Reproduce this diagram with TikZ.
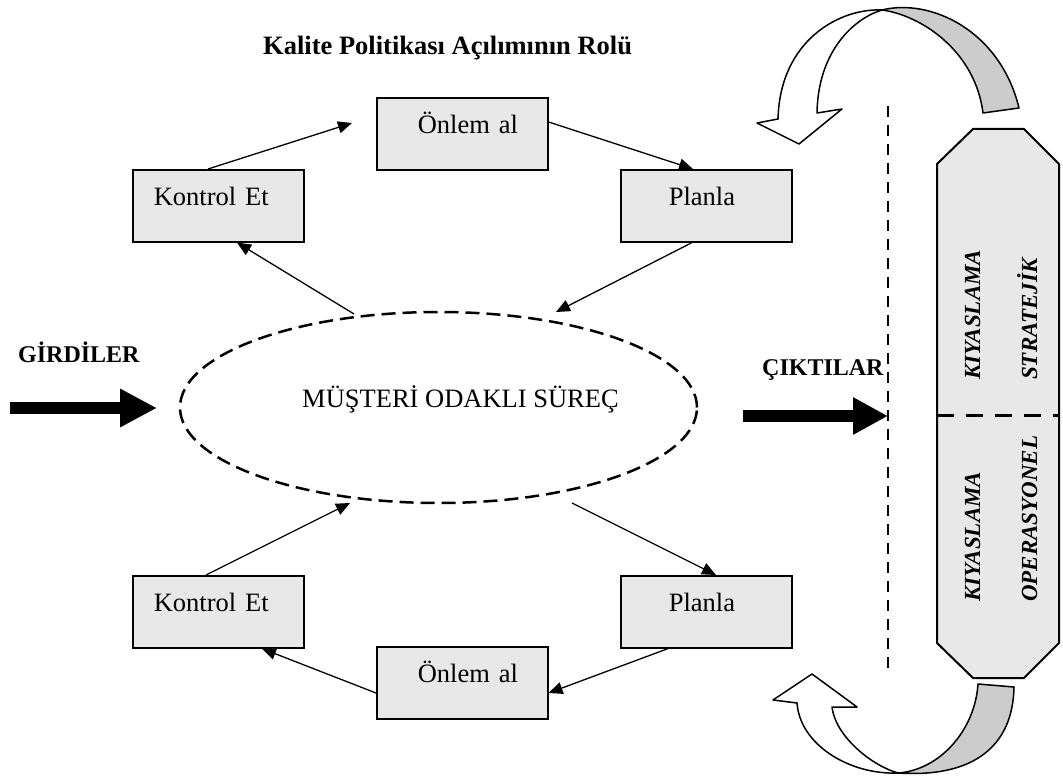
\documentclass[tikz,border=0pt]{standalone}
\usepackage{fontspec}
\setmainfont{Liberation Serif}
\usetikzlibrary{arrows.meta,shapes.geometric,calc}
\definecolor{boxgray}{HTML}{E8E8E8}
\definecolor{bandgray}{HTML}{CCCCCC}
\begin{document}
\begin{tikzpicture}[x=1pt,y=-1pt,
  txt/.style={font=\fontsize{26.5}{30}\selectfont},
  box/.style={draw, fill=boxgray, line width=1.6pt, anchor=north west, inner sep=0pt,
    text width=171pt, align=left, text height=36pt, text depth=36pt, txt},
  link/.style={line width=1.3pt, -{Triangle[length=14pt,width=12pt]}},
  heavy/.style={line width=12pt, -{Triangle[length=37pt,width=36pt]}},
  boldlbl/.style={anchor=base west, inner sep=0pt, font=\bfseries\fontsize{24}{28}\selectfont},
  vtext/.style={rotate=90, anchor=base west, inner sep=0pt, font=\bfseries\itshape\fontsize{23}{26}\selectfont},
  curl/.style={line width=1.5pt, line join=round},
]
\useasboundingbox (0,0) rectangle (1063,783);

% title
\node[anchor=base west, inner sep=0pt, font=\bfseries\fontsize{26.5}{30}\selectfont] (title) at (263,55) {Kalite Politikası Açılımının Rolü};

% cycle boxes
\node[box] (k1) at (132,169) {\hspace*{21pt}Kontrol Et};
\node[box] (o1) at (376,97)  {\hspace*{41pt}Önlem al};
\node[box] (p1) at (620,169) {\hspace*{48pt}Planla};
\node[box] (k2) at (132,575) {\hspace*{21pt}Kontrol Et};
\node[box] (o2) at (376,646) {\hspace*{41pt}Önlem al};
\node[box] (p2) at (620,575) {\hspace*{48pt}Planla};

% central process
\node[ellipse, draw, line width=2.5pt, dash pattern=on 14pt off 7pt,
  minimum width=517pt, minimum height=191pt, inner sep=0pt,
  text height=0pt, text depth=0pt, txt] (proc) at (438.5,407.5)
  {\hspace*{44pt}MÜŞTERİ ODAKLI SÜREÇ};

% upper cycle
\coordinate (t1) at (352,123);
\draw[link] ($(k1.north west)+(76,0)$) -- (t1);
\draw[link] ($(o1.north east)+(0,25)$) -- ($(p1.north west)+(73,0)$);
\coordinate (t3) at (556,312);
\draw[link] ($(p1.south west)+(72,0)$) -- (t3);
\coordinate (s4) at (354,314);
\draw[link] (s4) -- ($(k1.south west)+(105,0)$);

% lower cycle
\coordinate (t5) at (350,503);
\draw[link] ($(k2.north west)+(74,0)$) -- (t5);
\coordinate (s6) at (572,503);
\draw[link] (s6) -- ($(p2.north west)+(96,0)$);
\draw[link] ($(p2.south west)+(48,0)$) -- ($(o2.north east)+(0,47)$);
\draw[link] ($(o2.north west)+(0,47)$) -- ($(k2.south west)+(130,0)$);

% inputs and outputs
\node[boldlbl] (in) at (18,363) {GİRDİLER};
\coordinate (g0) at (10,408);
\coordinate (g1) at (157,408);
\draw[heavy] (g0) -- (g1);

\node[boldlbl] (out) at (762,376) {ÇIKTILAR};
\coordinate (c0) at (743,416);
\coordinate (c1) at (888,416);
\draw[line width=12pt, -{Triangle[length=35pt,width=35pt]}] (c0) -- (c1);

% boundary line
\draw[line width=2.8pt, dash pattern=on 11pt off 8pt] (888,106) -- (888,676);

% benchmarking octagon
\filldraw[line width=2pt, fill=boxgray] (937,164) -- (973,129) -- (1024,129) -- (1059,164)
  -- (1059,643) -- (1024,678) -- (973,678) -- (937,643) -- cycle;
\draw[line width=3pt, dash pattern=on 17pt off 12pt] (937,416) -- (1059,416);
\node[vtext] (ks) at (980,380) {KIYASLAMA};
\node[vtext] (st) at (1037,380) {STRATEJİK};
\node[vtext] (ko) at (980,602) {KIYASLAMA};
\node[vtext] (op) at (1037,602) {OPERASYONEL};

% curved arrow, top
\filldraw[curl, fill=bandgray] (882,10) .. controls (930,-2) and (1000,30) .. (1019,108)
  -- (983,113) .. controls (975,50) and (920,15) .. (882,10) -- cycle;
\filldraw[curl, fill=white] (882,10) .. controls (840,8) and (780,40) .. (778,119)
  -- (757,123) -- (799,144) -- (842,109) -- (817,113)
  .. controls (818,50) and (855,18) .. (882,10) -- cycle;

% curved arrow, bottom
\filldraw[curl, fill=bandgray] (978,684) -- (1014,687) .. controls (1013,745) and (975,778) .. (898,773)
  .. controls (940,770) and (975,730) .. (978,684) -- cycle;
\filldraw[curl, fill=white] (898,773) .. controls (850,775) and (800,745) .. (797,703)
  -- (773,700) -- (812,674) -- (857,707) -- (832,707)
  .. controls (835,735) and (870,765) .. (898,773) -- cycle;
\end{tikzpicture}
\end{document}
